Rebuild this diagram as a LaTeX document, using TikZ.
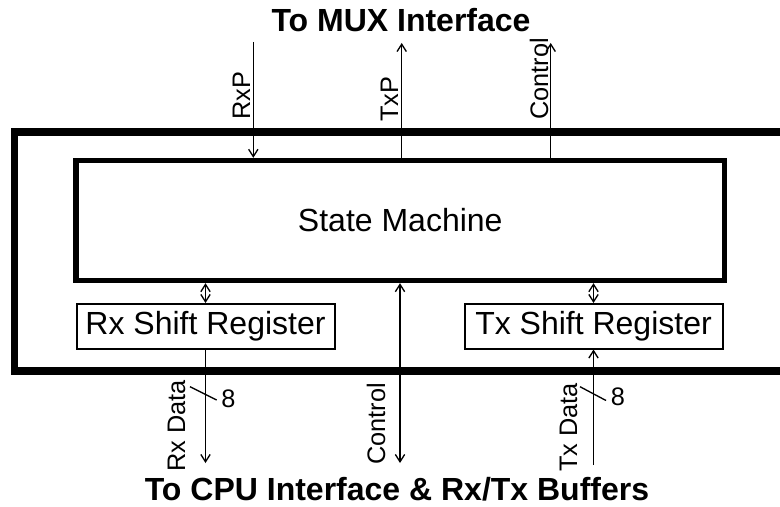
\documentclass[tikz,border=0pt]{standalone}
\usepackage{fontspec}
\setmainfont{Liberation Sans}
\usetikzlibrary{arrows.meta}
\begin{document}
\begin{tikzpicture}[x=0.75pt,y=-0.75pt,
  bigtext/.style={font=\fontsize{24}{28}\selectfont},
  smalltext/.style={font=\fontsize{19}{22}\selectfont},
  titletext/.style={font=\fontsize{24}{28}\selectfont\bfseries, anchor=base, inner sep=0pt},
  smbox/.style={draw, line width=4pt, bigtext, minimum width=648.5*0.75pt, minimum height=120*0.75pt, inner sep=0pt},
  srbox/.style={draw, line width=1.5pt, bigtext, minimum width=258*0.75pt, minimum height=44.5*0.75pt, inner sep=0pt},
  frame/.style={line width=5.6pt, line join=miter},
  sig/.style={line width=1pt, >={Straight Barb[length=5.5pt,width=7pt]}},
  vlabel/.style={smalltext, rotate=90, anchor=base west, inner sep=0pt},
  widthlabel/.style={smalltext, inner sep=0pt},
]
\useasboundingbox (0,0) rectangle (780,506);

% outer frame (right side runs off the picture)
\draw[frame] (780,132) -- (14.5,132) -- (14.5,371) -- (780,371);

% blocks
\node[smbox] (sm) at (400.25,220.5) {State Machine};
\node[srbox] (rx) at (205.5,326.25) {Rx Shift Register};
\node[srbox] (tx) at (593.5,326.25) {Tx Shift Register};

% titles
\node[titletext] (mux) at (401,32) {To MUX Interface};
\node[titletext] (cpu) at (397,500.5) {To CPU Interface \& Rx/Tx Buffers};

% top signals
\coordinate (rxpin) at (253.3,42);
\coordinate (txpout) at (401.7,43);
\coordinate (ctlout) at (550.7,43);
\draw[sig,->] (rxpin) -- (rxpin |- sm.north);
\draw[sig,->] (txpout |- sm.north) -- (txpout);
\draw[sig,->] (ctlout |- sm.north) -- (ctlout);
\node[vlabel] (lrxp) at (250,120) {RxP};
\node[vlabel] (ltxp) at (398,122) {TxP};
\node[vlabel] (lctl1) at (548,120) {Control};

% state machine <-> shift registers
\draw[sig,<->] (rx.north) -- (rx.north |- sm.south);
\draw[sig,<->] (tx.north) -- (tx.north |- sm.south);

% bottom signals
\coordinate (rxout) at (205.5,463);
\coordinate (ctlin) at (400,463);
\coordinate (txin) at (593.5,465);
\draw[sig,->] (rx.south) -- (rxout);
\draw[sig,<->] (ctlin |- sm.south) -- (ctlin);
\draw[sig,->] (txin) -- (tx.south);
\node[vlabel] (lrxd) at (185,472) {Rx Data};
\node[vlabel] (lctl2) at (385,465) {Control};
\node[vlabel] (ltxd) at (577,472) {Tx Data};

% bus width marks
\draw[sig] (190,386.7) -- (216.7,400);
\draw[sig] (580,386.7) -- (606,400.5);
\node[widthlabel] (w1) at (228.5,398.5) {8};
\node[widthlabel] (w2) at (618,397) {8};
\end{tikzpicture}
\end{document}
